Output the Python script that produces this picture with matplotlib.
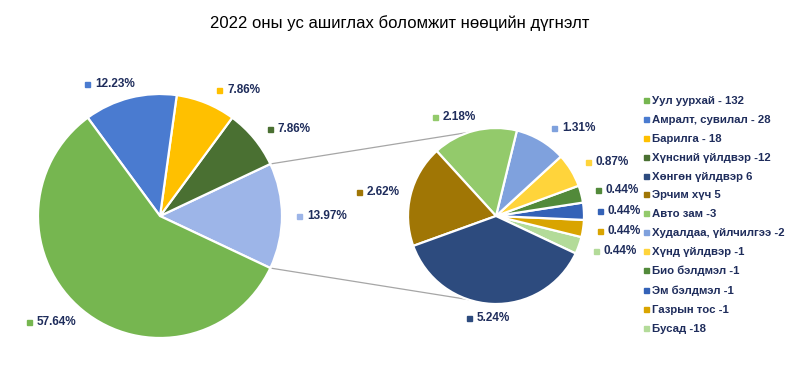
import matplotlib
matplotlib.use("Agg")
import matplotlib.pyplot as plt
from matplotlib.lines import Line2D
import numpy as np

plt.rcParams['font.family'] = ['Liberation Sans', 'DejaVu Sans']

title = "2022 оны ус ашиглах боломжит нөөцийн дүгнэлт"

# main pie (counter-clockwise from the right): other group, then categories
main_pct = [13.97, 7.86, 7.86, 12.23, 57.64]
main_colors = ['#9DB5E8', '#4A7032', '#FFC000', '#4A7BD0', '#76B650']

# secondary pie (counter-clockwise)
sec_pct = [0.44, 0.44, 0.44, 0.44, 0.87, 1.31, 2.18, 2.62, 5.24]
sec_colors = ['#B3DB99', '#D9A400', '#3462B7', '#528A3A', '#FFD43B',
              '#7FA1DD', '#93CA6B', '#A07605', '#2D4B7E']

legend_labels = ["Уул уурхай - 132", "Амралт, сувилал - 28", "Барилга - 18",
                 "Хүнсний үйлдвэр -12", "Хөнгөн үйлдвэр 6", "Эрчим хүч 5",
                 "Авто зам -3", "Худалдаа, үйлчилгээ -2", "Хүнд үйлдвэр -1",
                 "Био бэлдмэл -1", "Эм бэлдмэл -1", "Газрын тос -1", "Бусад -18"]
legend_colors = ['#76B650', '#4A7BD0', '#FFC000', '#4A7032', '#2D4B7E',
                 '#A07605', '#93CA6B', '#7FA1DD', '#FFD43B', '#528A3A',
                 '#3462B7', '#D9A400', '#B3DB99']

TXT = '#1F2D5C'
W, H = 800, 370
fig = plt.figure(figsize=(8, 3.7), dpi=100)
ax = fig.add_axes([0, 0, 1, 1])
ax.set_xlim(0, W)
ax.set_ylim(0, H)
ax.set_aspect('equal')
ax.axis('off')

def Y(y):
    return H - y

c1 = (160, Y(216)); r1 = 122
c2 = (496, Y(216)); r2 = 88

other_share = main_pct[0] / sum(main_pct)
start1 = -other_share * 180
ax.pie(main_pct, colors=main_colors, startangle=start1, counterclock=True,
       center=c1, radius=r1, frame=True,
       wedgeprops=dict(edgecolor='white', linewidth=1.6))
ax.pie(sec_pct, colors=sec_colors, startangle=-25.2, counterclock=True,
       center=c2, radius=r2, frame=True,
       wedgeprops=dict(edgecolor='white', linewidth=1.6))
ax.set_xlim(0, W)
ax.set_ylim(0, H)
ax.axis('off')

# connector lines
a_top = np.deg2rad(start1 + other_share * 360)
a_bot = np.deg2rad(start1)
p_top = (c1[0] + r1 * np.cos(a_top), c1[1] + r1 * np.sin(a_top))
p_bot = (c1[0] + r1 * np.cos(a_bot), c1[1] + r1 * np.sin(a_bot))
ax.plot([p_top[0], c2[0]], [p_top[1], c2[1] + r2], color='#A6A6A6', lw=0.9, zorder=0)
ax.plot([p_bot[0], c2[0]], [p_bot[1], c2[1] - r2], color='#A6A6A6', lw=0.9, zorder=0)

# data labels (marker pixel positions)
main_lab_pos = [(299, 216), (270, 129), (219, 90), (87, 84), (29, 322)]
sec_lab_pos = [(596, 251), (600, 231), (600, 211), (598, 190), (588, 162),
               (554, 128), (435, 117), (359, 192), (469, 318)]

def label(pos, color, val):
    x, y = pos
    ax.plot([x], [Y(y)], marker='s', ms=3.6, color=color, mec=color, ls='none')
    ax.text(x + 8, Y(y), f"{val:.2f}%", fontsize=8.5, fontweight='bold',
            color=TXT, va='center', ha='left')

for p, c, v in zip(main_lab_pos, main_colors, main_pct):
    label(p, c, v)
for p, c, v in zip(sec_lab_pos, sec_colors, sec_pct):
    label(p, c, v)

fig.text(0.5, 1 - 23 / H, title, fontsize=12, ha='center', va='center', color='black')

handles = [Line2D([], [], marker='s', ls='none', ms=3.6, color=c, mec=c)
           for c in legend_colors]
leg = ax.legend(handles, legend_labels, loc='upper left',
                bbox_to_anchor=(643 / W, 1 - 96 / H), frameon=False,
                prop=dict(size=8.2, weight='bold'), labelcolor=TXT,
                handlelength=0.5, handletextpad=0.3, labelspacing=0.78,
                borderpad=0, borderaxespad=0)

fig.savefig('out.png', dpi=100, facecolor='white')
